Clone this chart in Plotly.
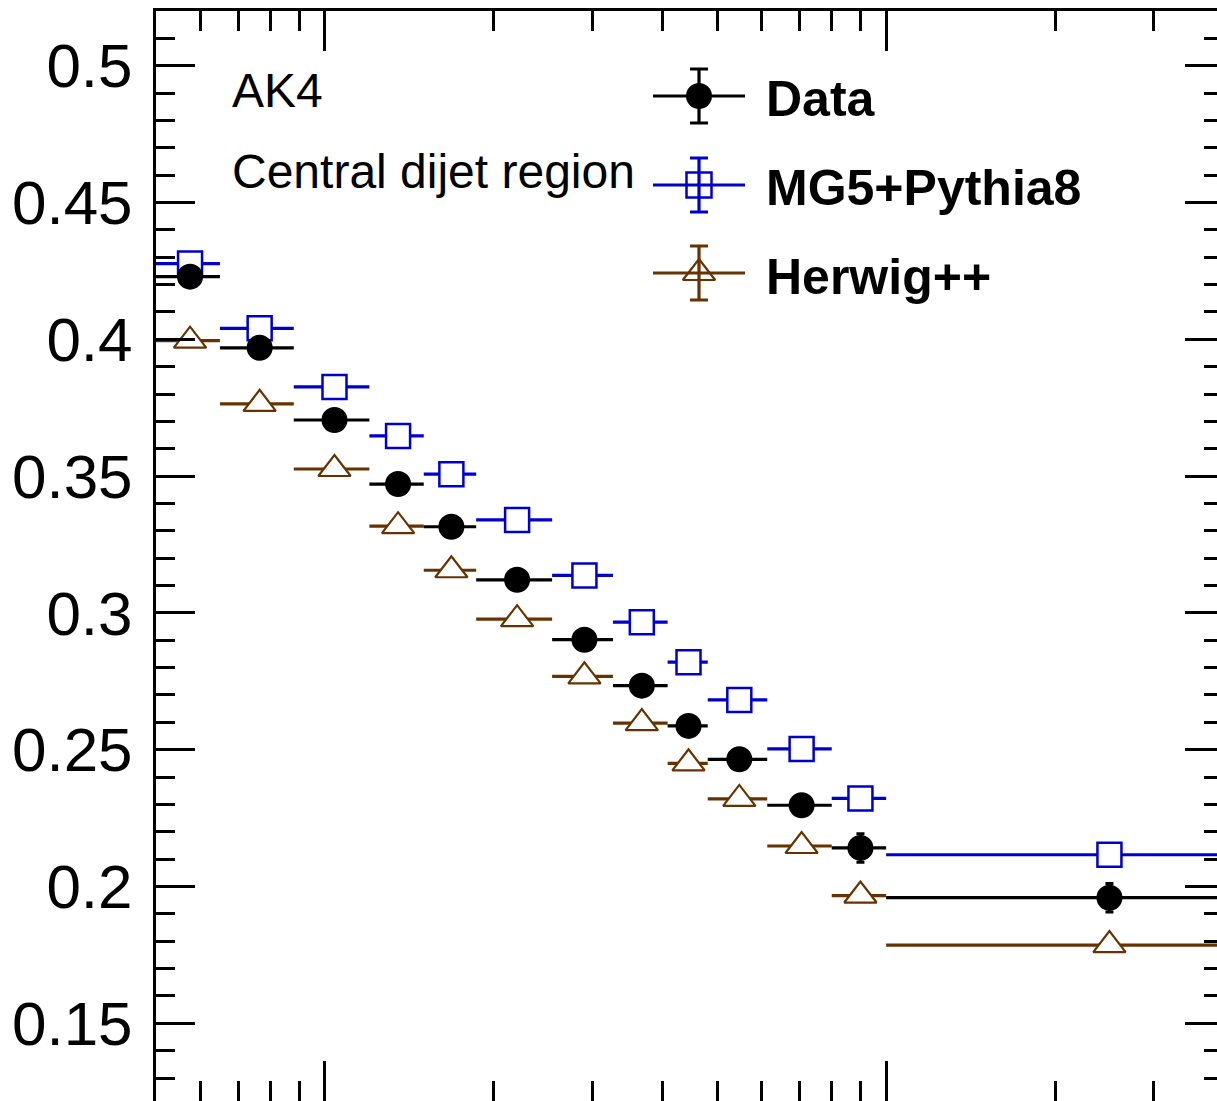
import math
import plotly.graph_objects as go

# ---------------- data ----------------
bin_edges = [50, 65, 88, 120, 150, 186, 254, 326, 408, 481, 614, 800, 1000, 4000]
data_vals = [0.4229, 0.3969, 0.3705, 0.3471, 0.3315, 0.3121, 0.2902, 0.2734, 0.2587,
             0.2465, 0.2297, 0.2141, 0.1959]
data_errs = [0.0015, 0.0015, 0.0015, 0.0015, 0.0020, 0.0020, 0.0020, 0.0025, 0.0030,
             0.0030, 0.0035, 0.0052, 0.0052]
mg_vals = [0.4277, 0.4040, 0.3826, 0.3647, 0.3507, 0.3340, 0.3137, 0.2966, 0.2820,
           0.2682, 0.2503, 0.2322, 0.2116]
mg_errs = [0.0010, 0.0010, 0.0010, 0.0010, 0.0010, 0.0010, 0.0010, 0.0012, 0.0012,
           0.0012, 0.0015, 0.0015, 0.0015]
hw_vals = [0.3995, 0.3764, 0.3526, 0.3317, 0.3156, 0.2977, 0.2768, 0.2597, 0.2450,
           0.2320, 0.2148, 0.1967, 0.1786]
hw_errs = [0.0010, 0.0010, 0.0010, 0.0010, 0.0010, 0.0010, 0.0010, 0.0012, 0.0012,
           0.0012, 0.0015, 0.0015, 0.0015]

series_names = ["Data", "MG5+Pythia8", "Herwig++"]
text_labels = ["AK4", "Central dijet region"]

ytick_vals = [0.15, 0.2, 0.25, 0.3, 0.35, 0.4, 0.45, 0.5]
ytick_text = ["0.15", "0.2", "0.25", "0.3", "0.35", "0.4", "0.45", "0.5"]
xtick_major = [100, 1000]
xtick_minor = [60, 70, 80, 90, 200, 300, 400, 500, 600, 700, 800, 900, 2000, 3000]

x_min, x_max_vis = 50, 10 ** 3.5896
y_min, y_max = 0.1216, 0.52

# ---------------- styling ----------------
W, H = 1217, 1101
PL, PR, PT, PB = 156, 1217, 11, 1101
FONT = "Liberation Sans, Arial, Helvetica, sans-serif"
BLACK = "#000000"
BLUE = "#0000CC"
BROWN = "#663300"

centers = [(lo + hi) / 2 for lo, hi in zip(bin_edges[:-1], bin_edges[1:])]
halfw = [(hi - lo) / 2 for lo, hi in zip(bin_edges[:-1], bin_edges[1:])]


def fx(px):
    return (px - PL) / (PR - PL)


def fy(py):
    return (PB - py) / (PB - PT)


fig = go.Figure()


def add_series(vals, errs, color, symbol, size, fill, lw, capw):
    fig.add_trace(go.Scatter(
        x=centers, y=vals, mode="markers",
        marker=dict(symbol=symbol, size=size, color=fill,
                    line=dict(color=color, width=lw)),
        error_x=dict(type="data", array=halfw, symmetric=True, width=0,
                     thickness=3.2, color=color),
        error_y=dict(type="data", array=errs, symmetric=True, width=capw,
                     thickness=3, color=color),
        showlegend=False, hoverinfo="skip"))


add_series(hw_vals, hw_errs, BROWN, "triangle-up", 28, "white", 2.2, 0)
add_series(mg_vals, mg_errs, BLUE, "square", 24, "white", 2.5, 0)
add_series(data_vals, data_errs, BLACK, "circle", 26, BLACK, 0, 4)

# ---------------- legend (custom, ROOT style) ----------------
leg_rows = [96, 185, 273]
leg_x0, leg_x1, leg_xc = 653, 745, 699
leg_err = 27
leg_styles = [
    (BLACK, "circle", 26, 0),
    (BLUE, "square-open", 25, 2.5),
    (BROWN, "triangle-up-open", 28, 2.2),
]
for name, row, (col, sym, sz, lw) in zip(series_names, leg_rows, leg_styles):
    fig.add_trace(go.Scatter(
        x=[fx(leg_xc)], y=[fy(row)], mode="markers",
        xaxis="x2", yaxis="y2",
        marker=dict(symbol=sym, size=sz, color=col, line=dict(color=col, width=lw)),
        error_x=dict(type="data", array=[fx(leg_x1) - fx(leg_xc)], width=0,
                     thickness=3.2, color=col),
        error_y=dict(type="data", array=[fy(row - leg_err) - fy(row)], width=9,
                     thickness=3.2, color=col),
        showlegend=False, hoverinfo="skip", cliponaxis=False))

annotations = []
for name, cy in zip(series_names, [99, 188, 277]):
    annotations.append(dict(
        x=fx(764), y=fy(cy), xref="paper", yref="paper",
        xanchor="left", yanchor="middle", showarrow=False,
        text="<b>%s</b>" % name, font=dict(family=FONT, size=50, color=BLACK)))
for txt, cy in zip(text_labels, [90, 172]):
    annotations.append(dict(
        x=fx(230), y=fy(cy), xref="paper", yref="paper",
        xanchor="left", yanchor="middle", showarrow=False,
        text=txt, font=dict(family=FONT, size=48, color=BLACK)))

# empty traces so the mirrored tick axes exist
fig.add_trace(go.Scatter(x=[], y=[], xaxis="x3", yaxis="y", showlegend=False))
fig.add_trace(go.Scatter(x=[], y=[], xaxis="x", yaxis="y3", showlegend=False))

xr = [math.log10(x_min), math.log10(x_max_vis)]

fig.update_layout(
    width=W, height=H,
    margin=dict(l=PL, r=W - PR, t=PT, b=H - PB, pad=0),
    paper_bgcolor="white", plot_bgcolor="white",
    font=dict(family=FONT, color=BLACK),
    showlegend=False,
    annotations=annotations,
    xaxis=dict(type="log", range=xr, showgrid=False, zeroline=False,
               showline=False, ticks="inside", ticklen=40, tickwidth=2.5,
               tickcolor=BLACK, tickmode="array", tickvals=xtick_major,
               showticklabels=False,
               minor=dict(tickmode="array", tickvals=xtick_minor, ticks="inside",
                          ticklen=20, tickwidth=2.5, tickcolor=BLACK, showgrid=False)),
    xaxis3=dict(type="log", range=xr, overlaying="x", side="top", anchor="y",
                showgrid=False, zeroline=False, showline=True, linewidth=3,
                linecolor=BLACK, ticks="inside", ticklen=40, tickwidth=2.5,
                tickcolor=BLACK, tickmode="array", tickvals=xtick_major,
                showticklabels=False,
                minor=dict(tickmode="array", tickvals=xtick_minor, ticks="inside",
                           ticklen=20, tickwidth=2.5, tickcolor=BLACK, showgrid=False)),
    yaxis=dict(range=[y_min, y_max], showgrid=False, zeroline=False,
               showline=True, linewidth=3, linecolor=BLACK,
               ticks="inside", ticklen=39, tickwidth=2.5, tickcolor=BLACK,
               tickmode="array", tickvals=ytick_vals, ticktext=ytick_text,
               tickfont=dict(family=FONT, size=62, color=BLACK),
               ticklabelstandoff=8,
               minor=dict(tickmode="linear", tick0=0, dtick=0.01, ticks="inside",
                          ticklen=19, tickwidth=2.5, tickcolor=BLACK, showgrid=False)),
    yaxis3=dict(range=[y_min, y_max], overlaying="y", side="right", anchor="x",
                showgrid=False, zeroline=False, showline=False,
                ticks="inside", ticklen=32, tickwidth=2.5, tickcolor=BLACK,
                tickmode="array", tickvals=ytick_vals, showticklabels=False,
                minor=dict(tickmode="linear", tick0=0, dtick=0.01, ticks="inside",
                           ticklen=13, tickwidth=2.5, tickcolor=BLACK, showgrid=False)),
    xaxis2=dict(range=[0, 1], overlaying="x", visible=False, anchor="y2"),
    yaxis2=dict(range=[0, 1], overlaying="y", visible=False, anchor="x2"),
)

fig.write_html(
    "out.html",
    config={"displayModeBar": False},
    post_script=("document.body.style.margin='0';"
                 "document.body.style.padding='0';"
                 "document.body.style.overflow='hidden';"
                 "document.documentElement.style.overflow='hidden';"),
)
